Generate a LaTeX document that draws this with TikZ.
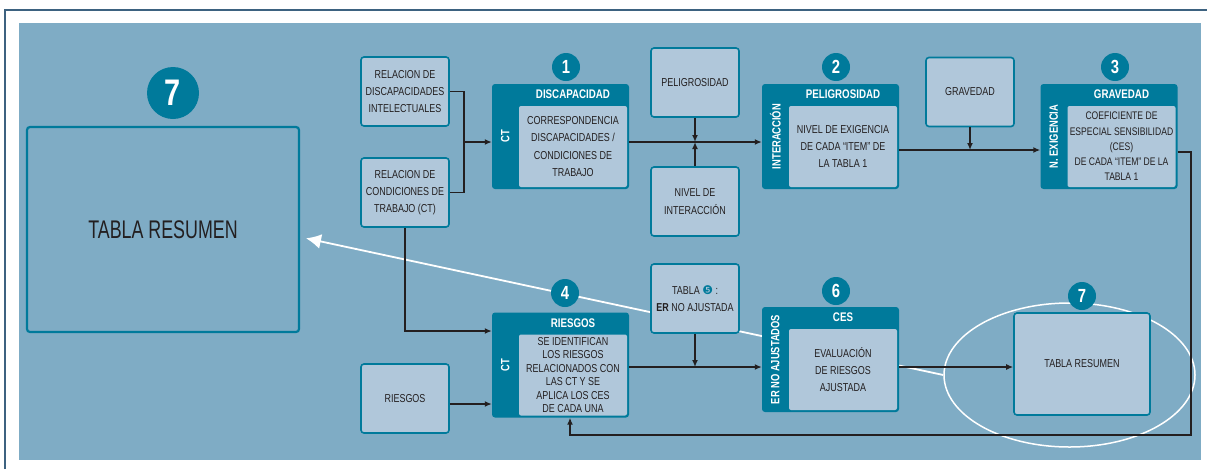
\documentclass[tikz,border=0pt]{standalone}
\usepackage{fontspec}
\setmainfont{Liberation Sans}[FakeStretch=0.78]
\newfontfamily\angosta{Liberation Sans}[FakeStretch=0.7]
\newfontfamily\dingfont{DejaVu Sans}
\usepackage{tikz}
\usetikzlibrary{arrows.meta,positioning,shapes.geometric}
\definecolor{fondo}{HTML}{7FACC5}
\definecolor{claro}{HTML}{B0C7DA}
\definecolor{azul}{HTML}{007A9B}
\definecolor{marco}{HTML}{3D6280}
\definecolor{texto}{HTML}{231F20}
\pgfdeclarelayer{capa}
\pgfdeclarelayer{medio}
\pgfsetlayers{capa,medio,main}

\begin{document}
\begin{tikzpicture}[x=1pt,y=-1pt,>={Latex[length=7pt,width=6pt]},
  caja/.style={draw=azul,fill=claro,line width=1.6pt,rounded corners=3pt,minimum width=88pt,minimum height=69pt,inner sep=0pt,align=center,text=texto,font=\fontsize{11.5}{17.3}\selectfont},
  proc/.style={fill=azul,rounded corners=3pt,minimum width=137pt,minimum height=105pt,inner sep=0pt},
  cuerpo/.style={fill=claro,rounded corners=2pt,minimum width=108pt,minimum height=81pt,inner sep=0pt,align=center,text=texto,font=\fontsize{11.5}{17.3}\selectfont},
  cab/.style={text=white,minimum height=22pt,inner sep=0pt,font=\bfseries\fontsize{12.5}{14}\selectfont},
  lado/.style={text=white,inner sep=0pt,rotate=90,font=\bfseries\fontsize{12}{14}\selectfont},
  num/.style={circle,fill=azul,text=white,minimum size=28pt,inner sep=0pt,font=\bfseries\fontsize{19}{19}\selectfont},
  linea/.style={line width=1.6pt,draw=texto},
  flecha/.style={linea,->}]
  \useasboundingbox (0,0) rectangle (1207,469);
  \begin{pgfonlayer}{capa}
    \fill[fondo] (19,23) rectangle (1201,460);
    \draw[marco,line width=2pt] (5,469) -- (5,10) -- (1207,10);
  \end{pgfonlayer}

  % entradas
  \node[caja] (RD) at (405,91.5) {RELACION DE\\DISCAPACIDADES\\INTELECTUALES};
  \node[caja] (RC) at (405,192.5) {RELACION DE\\CONDICIONES DE\\TRABAJO (CT)};
  \node[caja] (RI) at (405,398.5) {RIESGOS};
  \node[caja] (PE) at (695,82.5) {PELIGROSIDAD};
  \node[caja] (NI) at (695,201.5) {NIVEL DE\\INTERACCIÓN};
  \node[caja] (GR) at (970,92) {GRAVEDAD};
  \node[caja] (T5) at (695,298.5) {TABLA {\dingfont\fontsize{12}{12}\selectfont\color{azul}❺} :\\\textbf{ER} NO AJUSTADA};

  % pasos
  \node[proc] (P1) at (560.5,136.5) {};
  \node[cuerpo,anchor=south east] (P1b) at ([shift={(-2pt,2pt)}]P1.south east) {CORRESPONDENCIA\\DISCAPACIDADES /\\CONDICIONES DE\\TRABAJO};
  \node[cab,above=0pt of P1b] (P1h) {DISCAPACIDAD};
  \node[lado] (P1l) at ([xshift=13.5pt]P1.west) {CT};
  \node[num] (N1) at (566,67) {1};

  \node[proc] (P2) at (830.5,136.5) {};
  \node[cuerpo,anchor=south east] (P2b) at ([shift={(-2pt,2pt)}]P2.south east) {NIVEL DE EXIGENCIA\\DE CADA “ITEM” DE\\LA TABLA 1};
  \node[cab,above=0pt of P2b] (P2h) {PELIGROSIDAD};
  \node[lado] (P2l) at ([xshift=13.5pt]P2.west) {INTERACCIÓN};
  \node[num] (N2) at (836,67) {2};

  \node[proc] (P3) at (1109,136.5) {};
  \node[cuerpo,anchor=south east,font=\fontsize{11}{15.3}\selectfont] (P3b) at ([shift={(-2pt,2pt)}]P3.south east) {COEFICIENTE DE\\ESPECIAL SENSIBILIDAD\\(CES)\\DE CADA “ITEM” DE LA\\TABLA 1};
  \node[cab,above=0pt of P3b] (P3h) {GRAVEDAD};
  \node[lado] (P3l) at ([xshift=13.5pt]P3.west) {N. EXIGENCIA};
  \node[num] (N3) at (1115,67) {3};

  \node[proc] (P4) at (560.5,365) {};
  \node[cuerpo,anchor=south east,font=\fontsize{11.5}{13.4}\selectfont] (P4b) at ([shift={(-2pt,2pt)}]P4.south east) {SE IDENTIFICAN\\LOS RIESGOS\\RELACIONADOS CON\\LAS CT Y SE\\APLICA LOS CES\\DE CADA UNA};
  \node[cab,above=0pt of P4b] (P4h) {RIESGOS};
  \node[lado] (P4l) at ([xshift=13.5pt]P4.west) {CT};
  \node[num] (N4) at (565,293) {4};

  \node[proc] (P6) at (830.5,359.5) {};
  \node[cuerpo,anchor=south east] (P6b) at ([shift={(-2pt,2pt)}]P6.south east) {EVALUACIÓN\\DE RIESGOS\\AJUSTADA};
  \node[cab,above=0pt of P6b] (P6h) {CES};
  \node[lado] (P6l) at ([xshift=13.5pt]P6.west) {ER NO AJUSTADOS};
  \node[num] (N6) at (836,291) {6};

  % resumen
  \node[caja,minimum width=136pt,minimum height=102pt] (TR) at (1082,364) {TABLA RESUMEN};
  \node[num] (N7) at (1082,296) {7};
  \node[caja,fill=none,line width=2.2pt,minimum width=272pt,minimum height=205pt,font=\angosta\fontsize{25.5}{25.5}\selectfont] (TL) at (163,229.5) {TABLA RESUMEN};
  \node[num,minimum size=52pt,font=\bfseries\fontsize{37}{37}\selectfont] (N7L) at (173,93) {7};

  % conexiones
  \coordinate (J1) at (464,142);
  \draw[flecha] (RD.east) -| (J1) -- (J1 -| P1.west);
  \draw[linea] (RC.east) -| (J1);
  \coordinate (J2) at (695,142);
  \draw[flecha] (J2 -| P1.east) -- (J2 -| P2.west);
  \draw[flecha] (PE.south) -- (J2);
  \draw[flecha] (NI.north) -- (J2);
  \coordinate (J3) at (970,150);
  \draw[flecha] (J3 -| P2.east) -- (J3 -| P3.west);
  \draw[flecha] (GR.south) -- (J3);
  \coordinate (J4) at (1191,435);
  \draw[flecha] ([yshift=-15.5pt]P3.east) -| (J4) -| ([xshift=9.5pt]P4.south);
  \draw[flecha] (RC.south) |- ([yshift=34pt]P4.west);
  \draw[flecha] ([yshift=-5.5pt]RI.east) -- ([yshift=-5.5pt]RI.east -| P4.west);
  \coordinate (J5) at (695,367);
  \draw[flecha] (J5 -| P4.east) -- (J5 -| P6.west);
  \draw[flecha] (T5.south) -- (J5);
  \draw[flecha] (J5 -| P6.east) -- (J5 -| TR.west);

  \begin{pgfonlayer}{medio}
    \node[ellipse,draw=white,line width=1.5pt,minimum width=251pt,minimum height=144pt] (EL) at (1069.5,375) {};
    \draw[white,line width=1.8pt,-{Latex[length=15pt,width=15pt]},shorten >=6pt] (EL.west) -- ([yshift=-7.5pt]TL.east);
  \end{pgfonlayer}
\end{tikzpicture}
\end{document}
